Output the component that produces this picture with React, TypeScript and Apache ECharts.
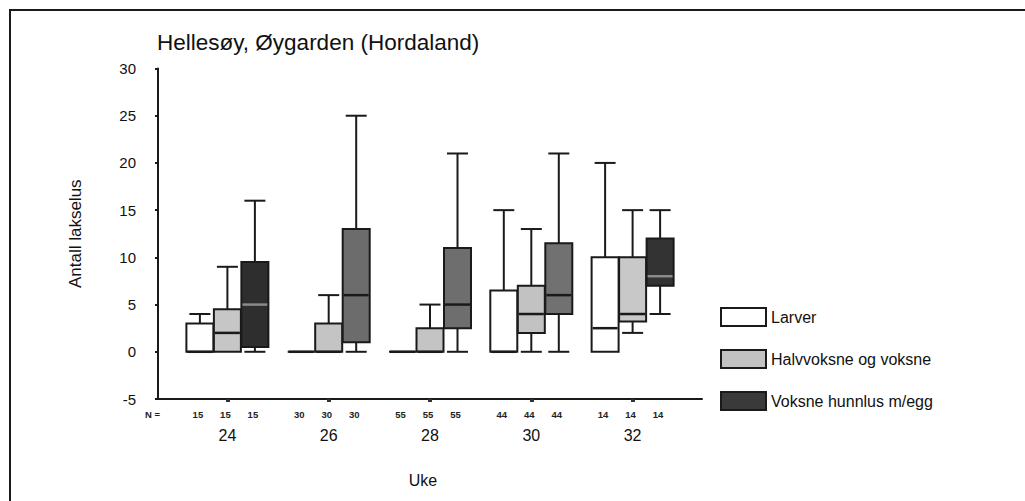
import React, { useEffect, useRef } from "react";
import * as echarts from "echarts";

const weeks = [24, 26, 28, 30, 32];
const nCounts = [15, 30, 55, 44, 14];
const yTicks = [-5, 0, 5, 10, 15, 20, 25, 30];

// Larver
const larverMin = [0, 0, 0, 0, 0];
const larverQ1 = [0, 0, 0, 0, 0];
const larverMedian = [0, 0, 0, 0, 2.5];
const larverQ3 = [3, 0, 0, 6.5, 10];
const larverMax = [4, 0, 0, 15, 20];

// Halvvoksne og voksne
const halvMin = [0, 0, 0, 0, 2];
const halvQ1 = [0, 0, 0, 2, 3.2];
const halvMedian = [2, 0, 0, 4, 4];
const halvQ3 = [4.5, 3, 2.5, 7, 10];
const halvMax = [9, 6, 5, 13, 15];

// Voksne hunnlus m/egg
const voksMin = [0, 0, 0, 0, 4];
const voksQ1 = [0.5, 1, 2.5, 4, 7];
const voksMedian = [5, 6, 5, 6, 8];
const voksQ3 = [9.5, 13, 11, 11.5, 12];
const voksMax = [16, 25, 21, 21, 15];

const seriesNames = ["Larver", "Halvvoksne og voksne", "Voksne hunnlus m/egg"];

// styles (kept separate from data)
const larverFills = ["#ffffff", "#ffffff", "#ffffff", "#ffffff", "#ffffff"];
const halvFills = ["#c6c6c6", "#c4c4c4", "#c4c4c4", "#c2c2c2", "#c8c8c8"];
const voksFills = ["#2e2e2e", "#6c6c6c", "#6e6e6e", "#717171", "#333333"];
const legendFills = ["#ffffff", "#c2c2c2", "#3a3a3a"];

const FONT = 'Arial, "Liberation Sans", sans-serif';
const INK = "#1a1a1a";

function buildRows(mn: number[], q1: number[], md: number[], q3: number[], mx: number[]) {
  return weeks.map((w, i) => [w, mn[i], q1[i], md[i], q3[i], mx[i], nCounts[i]]);
}

function makeRenderItem(offsetPx: number, fills: string[]) {
  return (params: any, api: any) => {
    const week = api.value(0);
    const lo = api.value(1);
    const q1 = api.value(2);
    const med = api.value(3);
    const q3 = api.value(4);
    const hi = api.value(5);
    const n = api.value(6);
    const cx = api.coord([week, 0])[0] + offsetPx;
    const y = (v: number) => api.coord([week, v])[1];
    const axisY = api.coord([week, -5])[1];
    const half = 13.5;
    const cap = 10.5;
    const fill = fills[params.dataIndex];
    const dark = fill === "#2e2e2e" || fill === "#333333";
    const children: any[] = [];
    if (hi > q3) {
      children.push({ type: "line", shape: { x1: cx, y1: y(hi), x2: cx, y2: y(q3) }, style: { stroke: INK, lineWidth: 2 } });
      children.push({ type: "line", shape: { x1: cx - cap, y1: y(hi), x2: cx + cap, y2: y(hi) }, style: { stroke: INK, lineWidth: 2 } });
    }
    if (lo < q1) {
      children.push({ type: "line", shape: { x1: cx, y1: y(q1), x2: cx, y2: y(lo) }, style: { stroke: INK, lineWidth: 2 } });
      children.push({ type: "line", shape: { x1: cx - cap, y1: y(lo), x2: cx + cap, y2: y(lo) }, style: { stroke: INK, lineWidth: 2 } });
    }
    children.push({
      type: "rect",
      shape: { x: cx - half, y: y(q3), width: half * 2, height: Math.max(y(q1) - y(q3), 0) },
      style: { fill, stroke: INK, lineWidth: 2 },
    });
    children.push({
      type: "line",
      shape: { x1: cx - half + 1, y1: y(med), x2: cx + half - 1, y2: y(med) },
      style: { stroke: dark ? "#8a8a8a" : INK, lineWidth: 2.5 },
    });
    children.push({
      type: "text",
      x: cx - 2,
      y: axisY + 15,
      style: {
        text: String(n),
        fontSize: 9.5,
        fontWeight: "bold",
        fontFamily: FONT,
        fill: "#222",
        align: "center",
        verticalAlign: "middle",
      },
    });
    return { type: "group", children };
  };
}

export default function App() {
  const ref = useRef<HTMLDivElement>(null);
  useEffect(() => {
    if (!ref.current) return;
    const chart = echarts.init(ref.current, null, { renderer: "svg" });
    const option: any = {
      animation: false,
      backgroundColor: "#ffffff",
      textStyle: { fontFamily: FONT },
      title: {
        text: "Hellesøy, Øygarden (Hordaland)",
        left: 152,
        top: 26,
        textStyle: { fontSize: 22.5, fontWeight: "normal", color: "#111", fontFamily: FONT },
      },
      legend: {
        orient: "vertical",
        left: 715,
        top: 302,
        itemWidth: 45,
        itemHeight: 18,
        itemGap: 22,
        selectedMode: false,
        textStyle: { fontSize: 16, color: "#111", fontFamily: FONT },
        data: seriesNames.map((name, i) => ({
          name,
          icon: "rect",
          itemStyle: { color: legendFills[i], borderColor: INK, borderWidth: 2 },
        })),
      },
      grid: { left: 158, top: 68.5, width: 544, height: 330.5, containLabel: false },
      xAxis: {
        type: "value",
        min: 22.63,
        max: 33.37,
        name: "Uke",
        nameLocation: "middle",
        nameGap: 73,
        nameTextStyle: { fontSize: 16, color: "#111", fontFamily: FONT, padding: [0, 14, 0, 0] },
        axisLine: { show: true, onZero: false, lineStyle: { color: INK, width: 2 } },
        axisTick: { show: true, customValues: weeks, length: 3, lineStyle: { color: "#333", width: 4 } },
        axisLabel: { customValues: weeks, margin: 28, fontSize: 16, color: "#111", fontFamily: FONT },
        splitLine: { show: false },
      },
      yAxis: {
        type: "value",
        min: -5,
        max: 30,
        interval: 5,
        name: "Antall lakselus",
        nameLocation: "middle",
        nameGap: 74,
        nameRotate: 90,
        nameTextStyle: { fontSize: 17, color: "#111", fontFamily: FONT },
        axisLine: { show: true, onZero: false, lineStyle: { color: INK, width: 2 } },
        axisTick: { show: true, inside: false, length: 3, lineStyle: { color: INK, width: 2 } },
        axisLabel: {
          margin: 22,
          fontSize: 15,
          color: "#111",
          fontFamily: FONT,
          formatter: (v: number) => (yTicks.includes(v) ? String(v) : ""),
        },
        splitLine: { show: false },
      },
      graphic: [
        {
          type: "rect",
          shape: { x: 10, y: 10, width: 1040, height: 520 },
          style: { fill: "none", stroke: INK, lineWidth: 2 },
          silent: true,
        },
        {
          type: "text",
          left: 145,
          top: 409,
          style: { text: "N =", fontSize: 9.5, fontWeight: "bold", fill: "#222", fontFamily: FONT },
        },
      ],
      series: [
        {
          name: seriesNames[0],
          type: "custom",
          itemStyle: { color: legendFills[0], borderColor: INK },
          encode: { x: 0, y: [1, 2, 3, 4, 5] },
          renderItem: makeRenderItem(-27.5, larverFills),
          data: buildRows(larverMin, larverQ1, larverMedian, larverQ3, larverMax),
        },
        {
          name: seriesNames[1],
          type: "custom",
          itemStyle: { color: legendFills[1], borderColor: INK },
          encode: { x: 0, y: [1, 2, 3, 4, 5] },
          renderItem: makeRenderItem(0, halvFills),
          data: buildRows(halvMin, halvQ1, halvMedian, halvQ3, halvMax),
        },
        {
          name: seriesNames[2],
          type: "custom",
          itemStyle: { color: legendFills[2], borderColor: INK },
          encode: { x: 0, y: [1, 2, 3, 4, 5] },
          renderItem: makeRenderItem(27.5, voksFills),
          data: buildRows(voksMin, voksQ1, voksMedian, voksQ3, voksMax),
        },
      ],
    };
    chart.setOption(option);
    return () => chart.dispose();
  }, []);
  return (
    <div
      ref={ref}
      style={{ position: "fixed", left: 0, top: 0, width: 1025, height: 501, background: "#fff" }}
    />
  );
}
